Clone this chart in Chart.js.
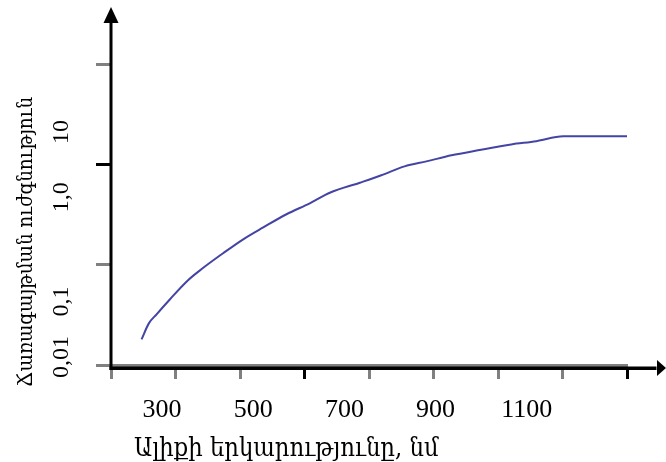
<!DOCTYPE html>
<html lang="hy">
<head>
  <meta charset="UTF-8">
  <title>Ճառագայթման ուժգնություն</title>
  <script src="https://cdn.jsdelivr.net/npm/chart.js"></script>
  <style>
    html, body { margin: 0; padding: 0; background: #fff; }
  </style>
</head>
<body>
  <canvas id="chart" width="666" height="462"></canvas>

  <script>
    // wavelength, nm
    const wavelength = [255, 271, 288, 317, 357, 389, 434, 478, 522, 573, 624, 668, 734, 781, 832, 880, 935, 993, 1066, 1121, 1180, 1250, 1320];
    // radiation intensity, relative units (log axis)
    const intensity = [0.018, 0.026, 0.032, 0.045, 0.070, 0.092, 0.130, 0.179, 0.235, 0.318, 0.409, 0.521, 0.656, 0.778, 0.955, 1.07, 1.23, 1.38, 1.58, 1.70, 1.90, 1.90, 1.90];

    const xTickLabels = [300, 500, 700, 900, 1100];
    const yTickValues = [0.01, 0.1, 1, 10];
    const yTickLabels = ['0,01', '0,1', '1,0', '10'];
    const xTitle = 'Ալիքի երկարությունը, նմ';
    const yTitle = 'Ճառագայթման ուժգնություն';

    const FONT = '"Liberation Serif", "DejaVu Serif", "Times New Roman", serif';
    const TITLE_FONT = '"DejaVu Serif Condensed", "DejaVu Serif", serif';
    const GRAY = '#808080';

    // the printed y labels are not centred on the tick marks; this is where they sit on the log axis
    const yLabelAt = [0.012, 0.043, 0.47, 2.1];

    // Armenian falls back to a wider font, so size the titles to the length they have in the original
    function fitFont(ctx, text, width) {
      ctx.font = '26px ' + TITLE_FONT;
      const size = 26 * width / ctx.measureText(text).width;
      ctx.font = size.toFixed(1) + 'px ' + TITLE_FONT;
    }

    // black axes with arrow heads, rotated y labels and the titles
    const axesDecor = {
      id: 'axesDecor',
      afterDraw(chart) {
        const { ctx, chartArea: a } = chart;
        const y = chart.scales.y;
        ctx.save();
        ctx.fillStyle = '#000';

        // y axis
        ctx.fillRect(a.left - 1.5, a.top - 42, 3, a.bottom - a.top + 47);
        ctx.beginPath();
        ctx.moveTo(a.left, a.top - 57);
        ctx.lineTo(a.left + 7.5, a.top - 41);
        ctx.lineTo(a.left - 7.5, a.top - 41);
        ctx.closePath();
        ctx.fill();

        // x axis
        ctx.fillRect(a.left - 1.5, a.bottom + 1.5, chart.width - 8 - a.left, 3.5);
        ctx.beginPath();
        ctx.moveTo(chart.width, a.bottom + 3);
        ctx.lineTo(chart.width - 9, a.bottom - 5);
        ctx.lineTo(chart.width - 9, a.bottom + 11);
        ctx.closePath();
        ctx.fill();

        ctx.textBaseline = 'middle';

        // y tick labels, rotated
        ctx.font = '24px ' + FONT;
        ctx.textAlign = 'center';
        yTickLabels.forEach((t, i) => {
          ctx.save();
          ctx.translate(62, y.getPixelForValue(yLabelAt[i]));
          ctx.rotate(-Math.PI / 2);
          ctx.fillText(t, 0, 0);
          ctx.restore();
        });

        // y title
        ctx.textAlign = 'left';
        fitFont(ctx, yTitle, 290);
        ctx.save();
        ctx.translate(27, a.bottom + 22);
        ctx.rotate(-Math.PI / 2);
        ctx.fillText(yTitle, 0, 0);
        ctx.restore();

        // x title
        fitFont(ctx, xTitle, 305);
        ctx.fillText(xTitle, a.left + 23, a.bottom + 84);

        ctx.restore();
      }
    };

    new Chart(document.getElementById('chart'), {
      type: 'line',
      data: {
        datasets: [{
          data: wavelength.map((w, i) => ({ x: w, y: intensity[i] })),
          borderColor: '#4444a4',
          borderWidth: 2,
          pointRadius: 0,
          cubicInterpolationMode: 'monotone',
          clip: false
        }]
      },
      options: {
        responsive: false,
        animation: false,
        layout: { padding: { left: 0, right: 39, top: 64, bottom: 0 } },
        plugins: { legend: { display: false }, tooltip: { enabled: false } },
        scales: {
          x: {
            type: 'linear', position: 'bottom', min: 188, max: 1320, weight: 0,
            afterBuildTicks: s => {
              s.ticks = Array.from({ length: 9 }, (_, i) => ({ value: s.min + i * (s.max - s.min) / 8 }));
            },
            afterFit: s => { s.height = 14; },
            ticks: { display: false },
            grid: {
              drawOnChartArea: false, tickLength: 14, tickWidth: 3,
              tickColor: c => (c.index === 3 || c.index === 8) ? '#000' : GRAY
            },
            border: { display: true, color: GRAY, width: 3 }
          },
          xl: {
            type: 'linear', position: 'bottom', min: 188, max: 1320, weight: 1,
            afterBuildTicks: s => { s.ticks = xTickLabels.map(v => ({ value: v })); },
            afterFit: s => { s.height = 83; },
            ticks: {
              font: { family: FONT, size: 26 }, color: '#000', padding: 16,
              maxRotation: 0, autoSkip: false,
              callback: v => String(v)
            },
            grid: { display: false, drawTicks: false },
            border: { display: false }
          },
          y: {
            type: 'logarithmic', min: 0.01, max: 10,
            afterBuildTicks: s => { s.ticks = yTickValues.map(v => ({ value: v })); },
            afterFit: s => { s.width = 111; },
            ticks: { display: false },
            grid: {
              drawOnChartArea: false, tickLength: 15, tickWidth: 3,
              tickColor: c => c.tick.value === 1 ? '#000' : GRAY
            },
            border: { display: false }
          }
        }
      },
      plugins: [axesDecor]
    });
  </script>
</body>
</html>
